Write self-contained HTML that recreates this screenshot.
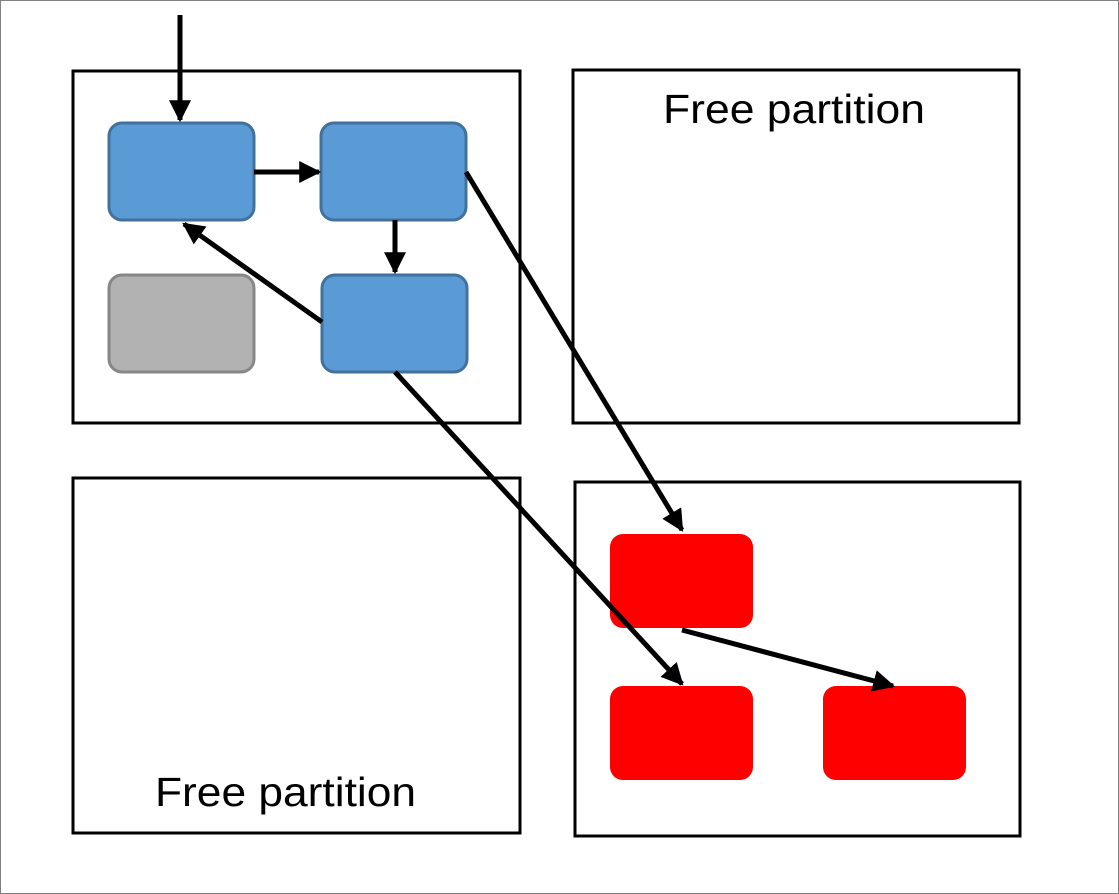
<!DOCTYPE html>
<html><head><meta charset="utf-8"><style>
html,body{margin:0;padding:0;background:#fff;}
svg{display:block;}
text{font-family:"Liberation Sans",sans-serif;}
</style></head><body>
<svg width="1119" height="894" viewBox="0 0 1119 894">
<defs>
<marker id="ah" viewBox="0 0 10 10" refX="9" refY="5" markerWidth="4.4" markerHeight="4.4" orient="auto" markerUnits="strokeWidth">
<path d="M0,0 L10,5 L0,10 z" fill="#000"/>
</marker>
</defs>
<rect x="0.5" y="0.5" width="1118" height="893" fill="#fff" stroke="#7f7f7f" stroke-width="1"/>
<g fill="none" stroke="#000" stroke-width="3">
<rect x="73" y="71" width="447" height="352"/>
<rect x="573" y="70" width="446" height="353"/>
<rect x="73" y="478" width="447" height="355"/>
<rect x="575" y="482" width="445" height="354"/>
</g>
<g stroke="#41719c" stroke-width="3" fill="#5b9bd5">
<rect x="109" y="123" width="145" height="97" rx="13"/>
<rect x="321" y="123" width="145" height="97" rx="13"/>
<rect x="322" y="275" width="145" height="97" rx="13"/>
</g>
<rect x="109" y="275" width="145" height="97" rx="13" fill="#b2b2b2" stroke="#878787" stroke-width="3"/>
<g fill="#ff0000">
<rect x="610" y="534" width="143" height="94" rx="13"/>
<rect x="610" y="686" width="143" height="94" rx="13"/>
<rect x="823" y="686" width="143" height="94" rx="13"/>
</g>
<g stroke="#000" stroke-width="5" marker-end="url(#ah)">
<line x1="180" y1="15" x2="180" y2="120"/>
<line x1="254" y1="172" x2="319" y2="172"/>
<line x1="395" y1="220" x2="395" y2="272"/>
<line x1="322" y1="322" x2="184" y2="224"/>
<line x1="466" y1="172" x2="682" y2="530"/>
<line x1="395" y1="372" x2="682" y2="684"/>
<line x1="682" y1="630" x2="893" y2="686"/>
</g>
<text x="663" y="123" font-size="41" textLength="262" lengthAdjust="spacingAndGlyphs" fill="#000">Free partition</text>
<text x="155" y="806" font-size="41" textLength="261" lengthAdjust="spacingAndGlyphs" fill="#000">Free partition</text>
</svg>
</body></html>
